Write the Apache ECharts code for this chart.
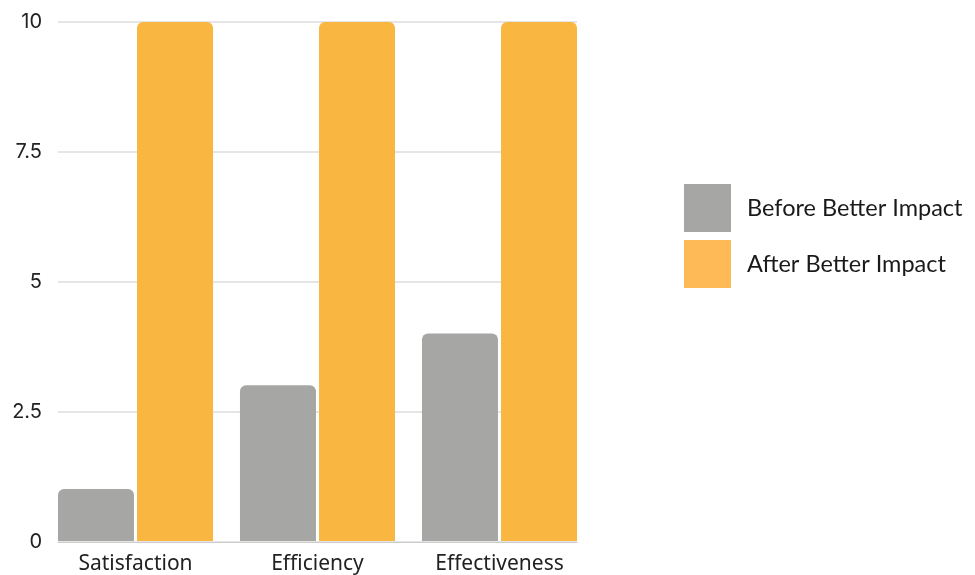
<!DOCTYPE html>
<html>
<head>
<meta charset="utf-8">
<script src="https://cdn.jsdelivr.net/npm/echarts@6/dist/echarts.min.js"></script>
<style>
html,body{margin:0;padding:0;background:#fff;}
#c{width:975px;height:575px;}
</style>
</head>
<body>
<div id="c"></div>
<script>
const categories = ['Satisfaction', 'Efficiency', 'Effectiveness'];
const beforeValues = [1, 3, 4];
const afterValues = [10, 10, 10];
const seriesNames = ['Before Better Impact', 'After Better Impact'];
const yTicks = [0, 2.5, 5, 7.5, 10];

const chart = echarts.init(document.getElementById('c'), null, {renderer: 'canvas'});
chart.setOption({
  animation: false,
  backgroundColor: '#ffffff',
  legend: {
    orient: 'vertical',
    left: 679,
    top: 179,
    itemWidth: 47,
    itemHeight: 48,
    itemGap: 8,
    icon: 'rect',
    selectedMode: false,
    textStyle: {
      fontFamily: 'Lato',
      fontSize: 23.5,
      color: '#1a1a1a',
      padding: [0, 0, 0, 11]
    },
    data: [
      {name: seriesNames[0], itemStyle: {color: '#a6a6a5'}},
      {name: seriesNames[1], itemStyle: {color: '#fdba57'}}
    ]
  },
  grid: [
    {left: 58, width: 519, top: 22, height: 520},
    {left: 44.5, width: 546, top: 22, height: 520}
  ],
  xAxis: [
    {
      gridIndex: 0, type: 'value', min: 0, max: 1,
      axisLine: {show: true, onZero: false, lineStyle: {color: '#cccccc', width: 1}},
      axisTick: {show: false}, axisLabel: {show: false}, splitLine: {show: false}
    },
    {
      gridIndex: 1, type: 'category', data: categories,
      axisLine: {show: false}, axisTick: {show: false},
      axisLabel: {fontFamily: 'Noto Sans', fontSize: 21, color: '#222222', margin: 13},
      splitLine: {show: false}
    }
  ],
  yAxis: [
    {
      gridIndex: 0, type: 'value', min: yTicks[0], max: yTicks[yTicks.length - 1], interval: 2.5,
      axisLine: {show: false}, axisTick: {show: false},
      axisLabel: {fontFamily: 'Inter', fontSize: 20, color: '#222222', margin: 16,
        formatter: v => String(v)},
      splitLine: {show: true, lineStyle: {color: '#dddddd', width: 1.5}}
    },
    {
      gridIndex: 1, type: 'value', min: 0, max: 10, show: false,
      splitLine: {show: false}
    }
  ],
  series: [
    {
      name: seriesNames[0], type: 'bar', xAxisIndex: 1, yAxisIndex: 1,
      data: beforeValues, barWidth: 76, barGap: '4%',
      itemStyle: {color: '#a6a6a5', borderRadius: [6, 6, 0, 0]}
    },
    {
      name: seriesNames[1], type: 'bar', xAxisIndex: 1, yAxisIndex: 1,
      data: afterValues, barWidth: 76, barGap: '4%',
      itemStyle: {color: '#f9b640', borderRadius: [6, 6, 0, 0]}
    }
  ]
});
</script>
</body>
</html>
